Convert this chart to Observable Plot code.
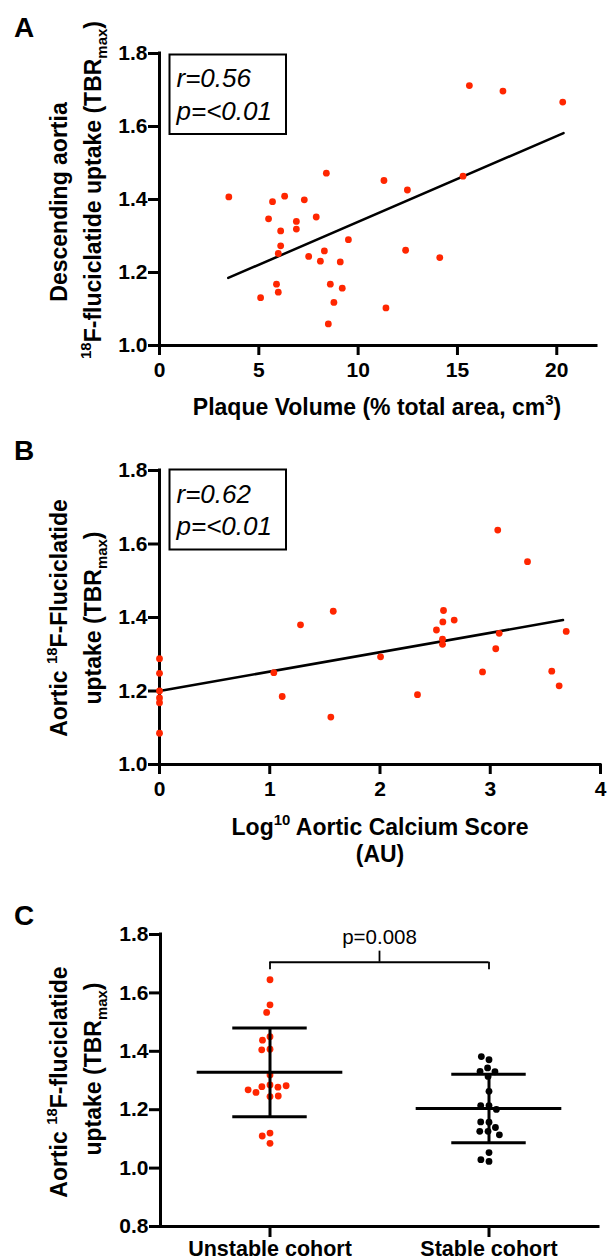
<!DOCTYPE html>
<html>
<head>
<meta charset="utf-8">
<script src="https://cdn.jsdelivr.net/npm/d3@7"></script>
<script src="https://cdn.jsdelivr.net/npm/@observablehq/plot@0.6"></script>
<style>
  html, body { margin: 0; padding: 0; background: #fff; }
  #wrap { position: relative; width: 613px; height: 1260px; overflow: hidden; background: #fff; }
  #wrap > svg { position: absolute; left: 0; }
</style>
</head>
<body>
<div id="wrap"></div>
<script>
// ---------------- data ----------------
const yTicksAB = [1.0, 1.2, 1.4, 1.6, 1.8];
const xTicksA = [0, 5, 10, 15, 20];
const xTicksB = [0, 1, 2, 3, 4];
const yTicksC = [0.8, 1.0, 1.2, 1.4, 1.6, 1.8];
const cohorts = ["Unstable cohort", "Stable cohort"];

// Panel A: plaque volume vs descending aorta uptake
const plaqueVolume = [3.49, 5.69, 6.30, 7.29, 8.40, 5.49, 6.89, 6.89, 7.89, 6.10, 6.10, 5.98, 9.51, 8.30, 7.51, 8.10, 9.10,
  5.89, 5.98, 5.09, 8.60, 9.20, 8.78, 8.50, 11.30, 12.48, 12.39, 14.11, 11.40, 15.28, 15.60, 17.29, 20.30];
const uptakeA = [1.407, 1.394, 1.409, 1.399, 1.472, 1.347, 1.340, 1.319, 1.352, 1.314, 1.273, 1.252, 1.290, 1.259, 1.244, 1.231, 1.229,
  1.168, 1.146, 1.131, 1.168, 1.157, 1.118, 1.059, 1.452, 1.426, 1.261, 1.241, 1.103, 1.464, 1.712, 1.697, 1.667];
const fitAx = [3.46, 20.34];
const fitAy = [1.185, 1.582];
const statsA = ["r=0.56", "p=<0.01"];

// Panel B: log10 calcium score vs aortic uptake
const calciumLog = [0, 0, 0, 0, 0, 0, 1.037, 1.113, 1.279, 1.576, 1.554, 2.005, 2.340, 2.512, 2.576, 2.570, 2.673, 2.567, 2.567,
  3.068, 3.338, 3.081, 3.050, 2.930, 3.558, 3.625, 3.689];
const uptakeB = [1.288, 1.248, 1.200, 1.181, 1.168, 1.085, 1.250, 1.185, 1.380, 1.417, 1.129, 1.293, 1.190, 1.366, 1.419, 1.388, 1.393,
  1.341, 1.327, 1.638, 1.552, 1.357, 1.315, 1.252, 1.254, 1.214, 1.362];
const fitBx = [0, 3.66];
const fitBy = [1.2, 1.393];
const statsB = ["r=0.62", "p=<0.01"];

// Panel C: cohorts
const unstableValues = [1.645, 1.559, 1.533, 1.450, 1.438, 1.407, 1.405, 1.319, 1.285, 1.279, 1.277, 1.282, 1.259, 1.268,
  1.245, 1.247, 1.120, 1.110, 1.085];
const stableValues = [1.371, 1.382, 1.343, 1.330, 1.331, 1.314, 1.263, 1.214, 1.214, 1.201, 1.157, 1.158, 1.139, 1.126,
  1.126, 1.114, 1.053, 1.023, 1.029];
const cohortMean = [1.328, 1.204];
const cohortSD = [0.152, 0.117];
const pLabel = "p=0.008";
const bracketLevel = 1.705;

// ---------------- style ----------------
const red = "#ff2600";
const fontFamily = "'Liberation Sans', Arial, Helvetica, sans-serif";
const baseStyle = { fontFamily, fontSize: "21px", fontWeight: "bold", color: "black", background: "white", overflow: "visible" };
const fmt1 = d3.format(".1f");
const yAxisOpts = { tickSize: 11, tickPadding: 1, strokeWidth: 3, fontSize: 21, fontWeight: "bold", tickFormat: fmt1, label: null };
const xAxisOpts = { tickSize: 10, tickPadding: 7, strokeWidth: 3, fontSize: 21, fontWeight: "bold", label: null };

const wrap = document.getElementById("wrap");

// rich text helper (superscripts / subscripts as tspans)
function rich(svg, { x, y, rotate = 0, size, weight = "bold", style = "normal", anchor = "middle", parts }) {
  const t = d3.select(svg).append("text")
    .attr("transform", `translate(${x},${y}) rotate(${rotate})`)
    .attr("text-anchor", anchor)
    .attr("font-family", fontFamily)
    .attr("font-size", size)
    .attr("font-weight", weight)
    .attr("font-style", style)
    .attr("fill", "black");
  let shift = 0;
  for (const p of parts) {
    const [str, mode] = typeof p === "string" ? [p, null] : p;
    const target = mode === "sup" ? -size * 0.42 : mode === "sub" ? size * 0.24 : 0;
    const ts = t.append("tspan").attr("dy", target - shift).text(str);
    if (mode) ts.attr("font-size", size * 0.65);
    shift = target;
  }
  return t;
}

function statBox(svg, x, y, w, h, lines, baselines) {
  d3.select(svg).append("rect")
    .attr("x", x).attr("y", y).attr("width", w).attr("height", h)
    .attr("fill", "none").attr("stroke", "black").attr("stroke-width", 2);
  lines.forEach((s, i) => {
    rich(svg, { x: x + 7, y: baselines[i], size: 26, weight: "normal", style: "italic", anchor: "start", parts: [s] });
  });
}

function place(svg, top) {
  svg.style.position = "absolute";
  svg.style.top = top + "px";
  svg.style.left = "0px";
  wrap.appendChild(svg);
  return svg;
}

// ---------------- Panel A ----------------
const plotA = Plot.plot({
  width: 613, height: 430,
  marginLeft: 159, marginRight: 17, marginTop: 53, marginBottom: 85,
  style: baseStyle,
  x: { domain: [0, 22] },
  y: { domain: [1.0, 1.8] },
  marks: [
    Plot.axisY(yTicksAB, yAxisOpts),
    Plot.axisX(xTicksA, xAxisOpts),
    Plot.ruleX([0], { strokeWidth: 3, strokeLinecap: "square" }),
    Plot.ruleY([1.0], { strokeWidth: 3, strokeLinecap: "square" }),
    Plot.line(d3.zip(fitAx, fitAy), { x: d => d[0], y: d => d[1], stroke: "black", strokeWidth: 2.5 }),
    Plot.dot(d3.zip(plaqueVolume, uptakeA), { x: d => d[0], y: d => d[1], r: 3.4, fill: red })
  ]
});
place(plotA, 0);
rich(plotA, { x: 14, y: 37, size: 28, anchor: "start", parts: ["A"] });
rich(plotA, { x: 67, y: 202, rotate: -90, size: 23, parts: ["Descending aortia"] });
rich(plotA, { x: 101, y: 190, rotate: -90, size: 23, parts: [["18", "sup"], "F-fluciclatide uptake (TBR", ["max", "sub"], ")"] });
rich(plotA, { x: 377, y: 415, size: 23, parts: ["Plaque Volume (% total area, cm", ["3", "sup"], ")"] });
statBox(plotA, 169.5, 54.5, 116.5, 79.5, statsA, [87, 119.5]);

// ---------------- Panel B ----------------
const plotB = Plot.plot({
  width: 613, height: 450,
  marginLeft: 159, marginRight: 13, marginTop: 40, marginBottom: 116,
  style: baseStyle,
  x: { domain: [0, 4] },
  y: { domain: [1.0, 1.8] },
  marks: [
    Plot.axisY(yTicksAB, yAxisOpts),
    Plot.axisX(xTicksB, xAxisOpts),
    Plot.ruleX([0], { strokeWidth: 3, strokeLinecap: "square" }),
    Plot.ruleY([1.0], { strokeWidth: 3, strokeLinecap: "square" }),
    Plot.line(d3.zip(fitBx, fitBy), { x: d => d[0], y: d => d[1], stroke: "black", strokeWidth: 2.5 }),
    Plot.dot(d3.zip(calciumLog, uptakeB), { x: d => d[0], y: d => d[1], r: 3.4, fill: red })
  ]
});
place(plotB, 430);
rich(plotB, { x: 14, y: 30, size: 28, anchor: "start", parts: ["B"] });
rich(plotB, { x: 67, y: 188, rotate: -90, size: 23, parts: ["Aortic ", ["18", "sup"], "F-Fluciclatide"] });
rich(plotB, { x: 101, y: 188, rotate: -90, size: 23, parts: ["uptake (TBR", ["max", "sub"], ")"] });
rich(plotB, { x: 380, y: 405, size: 23, parts: ["Log", ["10", "sup"], " Aortic Calcium Score"] });
rich(plotB, { x: 380, y: 432, size: 23, parts: ["(AU)"] });
statBox(plotB, 169.5, 39.5, 116.5, 80, statsB, [72.5, 105]);

// ---------------- Panel C ----------------
const cData = [
  ...unstableValues.map(v => ({ group: cohorts[0], value: v })),
  ...stableValues.map(v => ({ group: cohorts[1], value: v }))
];
const summary = cohorts.map((g, i) => ({ group: g, mean: cohortMean[i], sd: cohortSD[i] }));
const bracket = [{ label: pLabel, level: bracketLevel }];

const plotC = Plot.plot({
  width: 613, height: 380,
  marginLeft: 159, marginRight: 15, marginTop: 54, marginBottom: 34,
  style: baseStyle,
  fx: { domain: cohorts, padding: 0 },
  x: { domain: [-1, 1], axis: null },
  y: { domain: [0.8, 1.8] },
  color: { domain: cohorts, range: [red, "black"] },
  marks: [
    Plot.axisY(yTicksC, yAxisOpts),
    Plot.axisFx({ anchor: "bottom", tickSize: 11, tickPadding: 3, strokeWidth: 3, fontSize: 21.5, fontWeight: "bold", label: null }),
    Plot.ruleY([0.8], { strokeWidth: 3, strokeLinecap: "square" }),
    Plot.ruleX([cohorts[0]], { fx: d => d, x: () => -1, strokeWidth: 3, strokeLinecap: "square" }),
    Plot.dot(cData, Plot.dodgeX({ anchor: "middle", padding: 1.5 }, { fx: "group", y: "value", r: 3.4, fill: "group" })),
    Plot.ruleY(summary, { fx: "group", y: "mean", x1: () => -0.665, x2: () => 0.665, strokeWidth: 3 }),
    Plot.ruleY(summary, { fx: "group", y: d => d.mean + d.sd, x1: () => -0.34, x2: () => 0.34, strokeWidth: 3 }),
    Plot.ruleY(summary, { fx: "group", y: d => d.mean - d.sd, x1: () => -0.34, x2: () => 0.34, strokeWidth: 3 }),
    Plot.ruleX(summary, { fx: "group", x: () => 0, y1: d => d.mean - d.sd, y2: d => d.mean + d.sd, strokeWidth: 3 }),
    // significance bracket
    Plot.ruleY(bracket, { fx: () => cohorts[0], y: "level", x1: () => 0, x2: () => 1, strokeWidth: 1.8 }),
    Plot.ruleY(bracket, { fx: () => cohorts[1], y: "level", x1: () => -1, x2: () => 0, strokeWidth: 1.8 }),
    Plot.ruleX(cohorts, { fx: d => d, x: () => 0, y1: () => bracketLevel - 0.026, y2: () => bracketLevel, strokeWidth: 1.8 }),
    Plot.ruleX(bracket, { fx: () => cohorts[0], x: () => 1, y1: "level", y2: d => d.level + 0.038, strokeWidth: 1.8 }),
    Plot.text(bracket, { fx: () => cohorts[0], x: () => 1, y: "level", text: "label", dy: -18, lineAnchor: "bottom", fontSize: 20.5, fontWeight: "normal" })
  ]
});
place(plotC, 880);
rich(plotC, { x: 14, y: 45, size: 28, anchor: "start", parts: ["C"] });
rich(plotC, { x: 67, y: 202, rotate: -90, size: 23, parts: ["Aortic ", ["18", "sup"], "F-fluciclatide"] });
rich(plotC, { x: 101, y: 189, rotate: -90, size: 23, parts: ["uptake (TBR", ["max", "sub"], ")"] });
</script>
</body>
</html>
